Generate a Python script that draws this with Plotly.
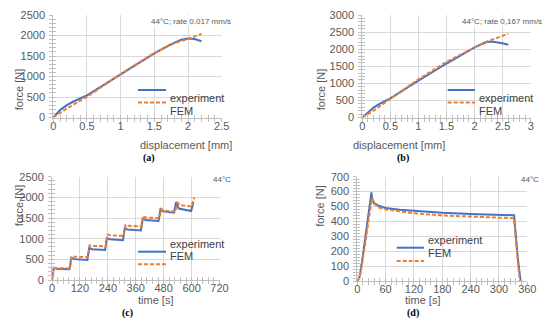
import plotly.graph_objects as go

W, H = 550, 332

# ---------------- data ----------------
# (a) 44°C; rate 0.017 mm/s
a_exp_disp = [0, 0.05, 0.1, 0.2, 0.3, 0.5, 0.75, 1.0, 1.25, 1.5, 1.75, 1.9, 2.0, 2.1, 2.2]
a_exp_force = [0, 100, 180, 300, 390, 540, 800, 1055, 1315, 1565, 1790, 1895, 1925, 1915, 1860]
a_fem_disp = [0, 0.1, 0.2, 0.5, 1.0, 1.5, 1.8, 2.0, 2.2]
a_fem_force = [0, 110, 220, 505, 1060, 1575, 1815, 1915, 2040]

# (b) 44°C; rate 0,167 mm/s
b_exp_disp = [0, 0.1, 0.2, 0.3, 0.5, 1.0, 1.5, 2.0, 2.2, 2.3, 2.4, 2.5, 2.6]
b_exp_force = [0, 160, 290, 390, 560, 1080, 1580, 2050, 2200, 2225, 2210, 2175, 2130]
b_fem_disp = [0, 0.2, 0.5, 1.0, 1.5, 2.0, 2.2, 2.4, 2.6]
b_fem_force = [0, 200, 545, 1120, 1630, 2065, 2215, 2330, 2450]

# (c) stepwise loading, 44°C
c_exp_time = [0, 8, 20, 75, 83, 95, 152, 160, 172, 228, 236, 248, 305, 313, 325, 382, 390,
              402, 458, 466, 478, 525, 533, 545, 598, 608]
c_exp_force = [0, 300, 275, 260, 540, 505, 485, 780, 745, 725, 1020, 985, 965, 1260, 1220,
               1200, 1490, 1450, 1430, 1710, 1660, 1630, 1885, 1730, 1670, 1880]
c_fem_time = [0, 8, 20, 77, 85, 97, 154, 162, 174, 231, 239, 251, 308, 316, 328, 385, 393,
              405, 462, 470, 482, 531, 539, 551, 600, 612]
c_fem_force = [0, 290, 285, 280, 575, 562, 555, 840, 825, 815, 1100, 1080, 1070, 1330, 1310,
               1300, 1540, 1510, 1500, 1720, 1675, 1660, 1870, 1810, 1780, 2000]

# (d) relaxation, 44°C
d_exp_time = [0, 5, 10, 20, 30, 31, 35, 45, 60, 90, 120, 180, 240, 300, 332, 340, 345, 348]
d_exp_force = [0, 30, 130, 350, 595, 560, 525, 505, 490, 478, 470, 458, 450, 445, 441, 150, 20, 0]
d_fem_time = [0, 5, 10, 20, 31, 35, 45, 60, 90, 120, 180, 240, 300, 332, 338, 344]
d_fem_force = [0, 20, 110, 320, 555, 520, 495, 480, 465, 455, 440, 432, 425, 421, 200, 0]

series_names = ["experiment", "FEM"]
BLUE = "#4472C4"
ORANGE = "#ED7D31"
GRID = "#D9D9D9"
AXC = "#BFBFBF"
TXT = "#595959"
FONT = "Liberation Sans, Arial, sans-serif"
DASH = "4px,2px"


def px(p):
    return p / W


def py(p):
    return 1 - p / H


panels = [
    dict(i=1, xd=(53.3, 221.7), yd=(15, 117.5), xr=(0, 2.5), xdt=0.5, xmin=0.1,
         yr=(0, 2500), ydt=500, ymin=100, ex=(a_exp_disp, a_exp_force), fe=(a_fem_disp, a_fem_force),
         xtitle="displacement [mm]", note="44°C; rate 0.017 mm/s", noteR=232, noteY=16,
         leg=(138, 166, 168, 90, 102.5), lab="(a)", labxy=(141, 157.5), ytx=11, xty=144.5),
    dict(i=2, xd=(362.3, 530.7), yd=(15, 117.5), xr=(0, 3), xdt=0.5, xmin=0.1,
         yr=(0, 3000), ydt=500, ymin=100, ex=(b_exp_disp, b_exp_force), fe=(b_fem_disp, b_fem_force),
         xtitle="displacement [mm]", note="44°C; rate 0,167 mm/s", noteR=543, noteY=16,
         leg=(447.7, 475, 477, 90, 102.5), lab="(b)", labxy=(411, 157.5), ytx=321, xty=144.5),
    dict(i=3, xd=(52, 219.5), yd=(176.7, 280), xr=(0, 720), xdt=120, xmin=24,
         yr=(0, 2500), ydt=500, ymin=100, ex=(c_exp_time, c_exp_force), fe=(c_fem_time, c_fem_force),
         xtitle="time [s]", note="44°C", noteR=232, noteY=179,
         leg=(138, 166, 168, 251.7, 264.3), lab="(c)", labxy=(120, 321), ytx=11, xty=307.5),
    dict(i=4, xd=(357.3, 527.3), yd=(176.7, 281), xr=(0, 360), xdt=60, xmin=12,
         yr=(0, 700), ydt=100, ymin=20, ex=(d_exp_time, d_exp_force), fe=(d_fem_time, d_fem_force),
         xtitle="time [s]", note="44°C", noteR=540, noteY=179,
         leg=(396.7, 424, 426, 247.7, 261), lab="(d)", labxy=(421, 321), ytx=320, xty=307.5),
]

fig = go.Figure()
annotations = []
shapes = []
layout = {}

for p in panels:
    i = p["i"]
    sx = "" if i == 1 else str(i)
    xa, ya = "x" + sx, "y" + sx
    oi = i + 4
    xo, yo = "x" + str(oi), "y" + str(oi)

    fig.add_trace(go.Scatter(x=p["ex"][0], y=p["ex"][1], mode="lines", name=series_names[0],
                             line=dict(color=BLUE, width=2), xaxis=xa, yaxis=ya, showlegend=False))
    fig.add_trace(go.Scatter(x=p["fe"][0], y=p["fe"][1], mode="lines", name=series_names[1],
                             line=dict(color=ORANGE, width=2, dash=DASH), xaxis=xa, yaxis=ya,
                             showlegend=False))
    # empty trace to instantiate overlay axes (inside halves of cross ticks)
    fig.add_trace(go.Scatter(x=[], y=[], xaxis=xo, yaxis=yo, showlegend=False, hoverinfo="skip"))

    xdom = [px(p["xd"][0]), px(p["xd"][1])]
    ydom = [py(p["yd"][1]), py(p["yd"][0])]
    common_x = dict(range=list(p["xr"]), dtick=p["xdt"], tick0=0, automargin=False, fixedrange=True)
    common_y = dict(range=list(p["yr"]), dtick=p["ydt"], tick0=0, automargin=False, fixedrange=True)

    layout["xaxis" + sx] = dict(domain=xdom, anchor=ya, **common_x, showgrid=True, gridcolor=GRID,
                                gridwidth=1, zeroline=False, showline=True, linecolor=AXC, linewidth=1,
                                ticks="outside", ticklen=3, tickcolor=AXC, ticklabelstandoff=-5,
                                minor=dict(dtick=p["xmin"], ticks="outside", ticklen=3, tickcolor=AXC,
                                           showgrid=False),
                                tickfont=dict(size=11, color=TXT, family=FONT))
    layout["yaxis" + sx] = dict(domain=ydom, anchor=xa, **common_y, showgrid=True, gridcolor=GRID,
                                gridwidth=1, zeroline=False, showline=True, linecolor=AXC, linewidth=1,
                                ticks="outside", ticklen=3, tickcolor=AXC, ticklabelstandoff=2,
                                minor=dict(dtick=p["ymin"], ticks="outside", ticklen=3, tickcolor=AXC,
                                           showgrid=False),
                                tickfont=dict(size=11, color=TXT, family=FONT))
    layout["xaxis" + str(oi)] = dict(overlaying=xa, anchor=ya, **common_x, showgrid=False,
                                     zeroline=False, showline=False, showticklabels=False,
                                     ticks="inside", ticklen=3, tickcolor=AXC,
                                     minor=dict(dtick=p["xmin"], ticks="inside", ticklen=3,
                                                tickcolor=AXC, showgrid=False))
    layout["yaxis" + str(oi)] = dict(overlaying=ya, anchor=xa, **common_y, showgrid=False,
                                     zeroline=False, showline=False, showticklabels=False,
                                     ticks="inside", ticklen=3, tickcolor=AXC,
                                     minor=dict(dtick=p["ymin"], ticks="inside", ticklen=3,
                                                tickcolor=AXC, showgrid=False))

    # axis titles
    annotations.append(dict(text="force [N]", x=px(p["ytx"]), y=py((p["yd"][0] + p["yd"][1]) / 2),
                            xref="paper", yref="paper", showarrow=False, textangle=-90,
                            font=dict(size=11, color=TXT, family=FONT)))
    annotations.append(dict(text=p["xtitle"], x=px((p["xd"][0] + p["xd"][1]) / 2), y=py(p["xty"]),
                            xref="paper", yref="paper", showarrow=False,
                            font=dict(size=11, color=TXT, family=FONT)))
    # condition note
    annotations.append(dict(text=p["note"], x=px(p["noteR"]), y=py(p["noteY"]), xref="paper",
                            yref="paper", xanchor="right", showarrow=False, bgcolor="white",
                            borderpad=0, font=dict(size=8, color=TXT, family=FONT)))
    # panel label
    annotations.append(dict(text="<b>" + p["lab"] + "</b>", x=px(p["labxy"][0]), y=py(p["labxy"][1]),
                            xref="paper", yref="paper", showarrow=False,
                            font=dict(size=10, color="black", family="Liberation Serif, Times New Roman, serif")))
    # legend (box + keys + text)
    l0, l1, tx, y1, y2 = p["leg"]
    shapes.append(dict(type="rect", xref="paper", yref="paper", x0=px(l0 - 3), x1=px(tx + 60),
                       y0=py(y2 + 7), y1=py(y1 - 7), fillcolor="white", line=dict(width=0),
                       layer="between"))
    shapes.append(dict(type="line", xref="paper", yref="paper", x0=px(l0), x1=px(l1), y0=py(y1),
                       y1=py(y1), line=dict(color=BLUE, width=2), layer="above"))
    shapes.append(dict(type="line", xref="paper", yref="paper", x0=px(l0), x1=px(l1), y0=py(y2),
                       y1=py(y2), line=dict(color=ORANGE, width=2, dash=DASH), layer="above"))
    for nm, yy in zip(series_names, (y1, y2)):
        annotations.append(dict(text=nm, x=px(tx), y=py(yy), xref="paper", yref="paper",
                                xanchor="left", showarrow=False,
                                font=dict(size=11, color="#404040", family=FONT)))

fig.update_layout(width=W, height=H, margin=dict(l=0, r=0, t=0, b=0, autoexpand=False),
                  plot_bgcolor="white", paper_bgcolor="white", showlegend=False,
                  annotations=annotations, shapes=shapes,
                  font=dict(family=FONT, color=TXT), **layout)

fig.write_html("out.html", config={"displayModeBar": False},
               post_script="document.body.style.margin='0';document.body.style.padding='0';")
